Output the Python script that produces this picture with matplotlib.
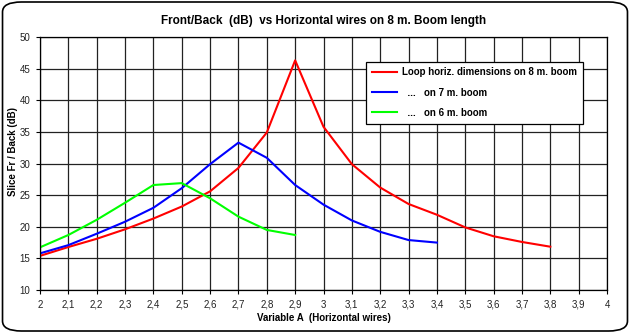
import matplotlib
matplotlib.use("Agg")
import matplotlib.pyplot as plt
from matplotlib.patches import FancyBboxPatch
import numpy as np

plt.rcParams['font.family'] = ['Liberation Sans', 'DejaVu Sans']

# F/B ratio (dB) against horizontal wire length (variable A)
x_8m = [2.0, 2.1, 2.2, 2.3, 2.4, 2.5, 2.6, 2.7, 2.8, 2.9,
        3.0, 3.1, 3.2, 3.3, 3.4, 3.5, 3.6, 3.7, 3.8]
fb_8m = [15.4, 16.8, 18.1, 19.6, 21.3, 23.2, 25.6, 29.3, 34.9, 46.3,
         35.8, 29.9, 26.2, 23.6, 21.9, 19.9, 18.5, 17.6, 16.85]

x_7m = [2.0, 2.1, 2.2, 2.3, 2.4, 2.5, 2.6, 2.7, 2.8, 2.9,
        3.0, 3.1, 3.2, 3.3, 3.4]
fb_7m = [15.8, 17.1, 18.9, 20.8, 23.0, 26.1, 29.9, 33.3, 30.9, 26.6,
         23.5, 21.0, 19.2, 17.9, 17.5]

x_6m = [2.0, 2.1, 2.2, 2.3, 2.4, 2.5, 2.6, 2.7, 2.8, 2.9]
fb_6m = [16.75, 18.7, 21.1, 23.8, 26.6, 26.9, 24.5, 21.6, 19.5, 18.7]

labels = ['Loop horiz. dimensions on 8 m. boom',
          '  ...   on 7 m. boom',
          '  ...   on 6 m. boom']

xticks = np.round(np.arange(2.0, 4.01, 0.1), 1)
yticks = np.arange(10, 51, 5)

fig = plt.figure(figsize=(6.3, 3.33), dpi=100)
ax = fig.add_axes([0.0635, 0.129, 0.9, 0.76])

ax.plot(x_8m, fb_8m, color='#ff0000', lw=1.5, label=labels[0])
ax.plot(x_7m, fb_7m, color='#0000ff', lw=1.5, label=labels[1])
ax.plot(x_6m, fb_6m, color='#00ff00', lw=1.5, label=labels[2])

ax.set_xlim(2, 4)
ax.set_ylim(10, 50)
ax.set_xticks(xticks)
ax.set_xticklabels([('%g' % v).replace('.', ',') for v in xticks])
ax.set_yticks(yticks)
ax.tick_params(direction='out', length=3, width=0.8, labelsize=7,
               colors='black', labelcolor='#222222', pad=4)
ax.grid(True, color='#222222', lw=0.9)
ax.set_axisbelow(True)
for s in ax.spines.values():
    s.set_color('black')
    s.set_linewidth(0.9)

ax.set_title('Front/Back  (dB)  vs Horizontal wires on 8 m. Boom length',
             fontsize=8.5, fontweight='bold', pad=9)
ax.set_xlabel('Variable A  (Horizontal wires)', fontsize=7, fontweight='bold')
ax.xaxis.set_label_coords(0.5, -0.09)
ax.set_ylabel('Slice Fr / Back (dB)', fontsize=7, fontweight='bold')
ax.yaxis.set_label_coords(-0.039, 0.547)

leg = ax.legend(loc='upper left', bbox_to_anchor=(0.575, 0.903), fancybox=False,
                framealpha=1, edgecolor='black', prop={'size': 7, 'weight': 'bold'},
                handlelength=2.6, borderpad=0.6, labelspacing=1.05, handletextpad=0.5,
                borderaxespad=0)
leg.get_frame().set_linewidth(0.9)

# rounded frame around the whole chart
fig.patches.append(FancyBboxPatch((0.004, 0.006), 0.992, 0.988,
                                  boxstyle='round,pad=0,rounding_size=0.03',
                                  transform=fig.transFigure, fill=False,
                                  edgecolor='black', lw=1.2))

fig.savefig('out.png', dpi=100)
